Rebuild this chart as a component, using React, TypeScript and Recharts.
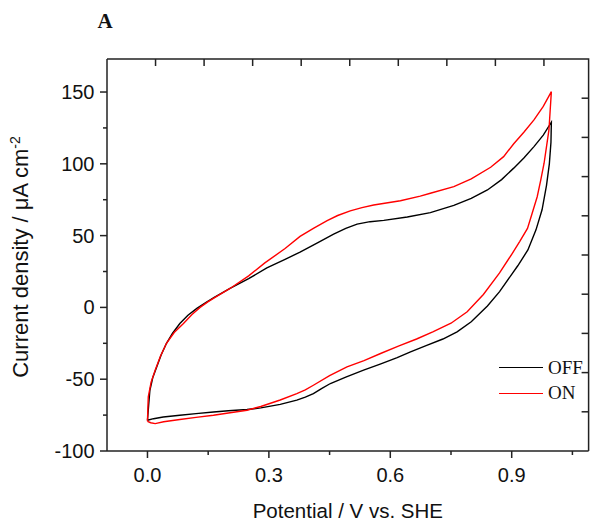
import React from "react";
import { LineChart, Line, XAxis, YAxis, Legend, Label } from "recharts";

const SANS = '"Liberation Sans", Arial, sans-serif';
const SERIF = '"Liberation Serif", "Times New Roman", serif';

// [potential V, current density µA cm-2]
const OFF_ANODIC = [
    [0, -78.6], [0.003, -68], [0.006, -57.7], [0.013, -49], [0.023, -41.4], [0.034, -33],
    [0.047, -25], [0.062, -18], [0.08, -11.2], [0.1, -5.5], [0.122, -0.7], [0.145, 3.5],
    [0.165, 7], [0.204, 13.2], [0.25, 20], [0.295, 27.5], [0.34, 33.5], [0.377, 38.5],
    [0.42, 45], [0.46, 51], [0.49, 55], [0.518, 58], [0.55, 59.7], [0.584, 60.6],
    [0.642, 63], [0.699, 66], [0.757, 71], [0.8, 76], [0.84, 81.8], [0.875, 89],
    [0.905, 97], [0.93, 104], [0.955, 112], [0.978, 120], [0.998, 129],
];
const OFF_CATHODIC = [
    [0.997, 115], [0.993, 100], [0.986, 85], [0.975, 68], [0.96, 54], [0.94, 40],
    [0.915, 29], [0.9, 23], [0.87, 11], [0.84, 1], [0.8, -10], [0.765, -17], [0.73, -22],
    [0.69, -26.5], [0.65, -31], [0.617, -35], [0.575, -39.5], [0.534, -43.7], [0.49, -48.5],
    [0.452, -53], [0.43, -56.5], [0.41, -60], [0.39, -62.5], [0.369, -64.6], [0.328, -67.5],
    [0.28, -70], [0.246, -71.1], [0.2, -72], [0.163, -72.8], [0.12, -74], [0.08, -75.1],
    [0.039, -76.3], [0.015, -77.5], [0, -78.6],
];
const ON_ANODIC = [
    [0, -79.3], [0.001, -70], [0.002, -62.3], [0.009, -52], [0.019, -43.7], [0.032, -34],
    [0.047, -25], [0.066, -17.5], [0.089, -11.2], [0.11, -5], [0.13, 0], [0.15, 4],
    [0.17, 7.5], [0.204, 13.2], [0.25, 22], [0.29, 31], [0.34, 41], [0.377, 49.5],
    [0.41, 55], [0.444, 60.4], [0.47, 64], [0.501, 67.2], [0.53, 69.5], [0.559, 71.3],
    [0.625, 74.3], [0.674, 77.5], [0.699, 79.5], [0.757, 84.1], [0.8, 89.5], [0.848, 97.6],
    [0.88, 105], [0.905, 114], [0.93, 122], [0.955, 130.6], [0.978, 140], [0.998, 150.3],
];
const ON_CATHODIC = [
    [0.995, 137], [0.992, 123.6], [0.986, 112], [0.98, 100.4], [0.972, 89], [0.963, 77.1],
    [0.95, 65], [0.939, 55], [0.92, 46], [0.9, 37], [0.87, 24], [0.83, 9], [0.79, -3],
    [0.75, -11], [0.705, -17], [0.665, -22], [0.62, -27], [0.576, -32.1], [0.535, -37],
    [0.493, -41.4], [0.45, -47.5], [0.41, -54.2], [0.39, -57.5], [0.369, -60], [0.328, -64.5],
    [0.28, -69], [0.246, -71.6], [0.2, -73.5], [0.163, -75.1], [0.12, -76.6], [0.08, -78.1],
    [0.04, -79.6], [0.019, -80.9], [0.008, -80.3], [0, -79.3],
];

const X_DOMAIN = [-0.1, 1.09];
const Y_DOMAIN = [-100, 173];
const X_TICKS = [0, 0.15, 0.3, 0.45, 0.6, 0.75, 0.9, 1.05];
const Y_TICKS = [-100, -75, -50, -25, 0, 25, 50, 75, 100, 125, 150];
// the top/right frame in the original has its own tick spacing (fractions of the box)
const TOP_TICKS = [1, 2, 3, 4, 5, 6, 7, 8, 9];
const TOP_SPAN = 9.92;
const RIGHT_TICKS = [1, 2, 3, 4, 5, 6, 7, 8, 9];
const RIGHT_SPAN = 10;

const W = 592;
const H = 525;
const MARGIN = { top: 59, right: 3.4, bottom: 0, left: 0 };
const Y_AXIS_W = 107;
const X_AXIS_H = 74;
const PLOT = {
    left: MARGIN.left + Y_AXIS_W,
    top: MARGIN.top,
    right: W - MARGIN.right,
    bottom: H - MARGIN.bottom - X_AXIS_H,
};

const toRows = (pts: number[][]) => pts.map(([x, y]) => ({ x, y }));
const offData = toRows([...OFF_ANODIC, ...OFF_CATHODIC]);
const onData = toRows([...ON_ANODIC, ...ON_CATHODIC]);

const AXIS = "#222";

function XTick({ x, y, payload }: any) {
    const major = Math.round(payload.value / 0.15) % 2 === 0;
    return (
        <g>
            <line x1={x} x2={x} y1={y} y2={y + (major ? 7 : 4)} stroke={AXIS} strokeWidth={1.5} />
            {major && (
                <text x={x} y={y + 31} textAnchor="middle" fontFamily={SANS} fontSize={20} fill="#111">
                    {payload.value.toFixed(1)}
                </text>
            )}
        </g>
    );
}

function YTick({ x, y, payload }: any) {
    const major = payload.value % 50 === 0;
    return (
        <g>
            <line x1={x - (major ? 7 : 4)} x2={x} y1={y} y2={y} stroke={AXIS} strokeWidth={1.5} />
            {major && (
                <text x={x - 12.5} y={y + 7} textAnchor="end" fontFamily={SANS} fontSize={20} fill="#111">
                    {payload.value}
                </text>
            )}
        </g>
    );
}

function YTitle() {
    return (
        <text
            transform="translate(27.5, 257) rotate(-90)"
            textAnchor="middle"
            fontFamily={SANS}
            fontSize={22}
            fill="#111"
        >
            Current density / μA cm
            <tspan fontSize={14} dy={-8}>-2</tspan>
        </text>
    );
}

// top and right edges of the box, ticks pointing inwards
function Frame() {
    const w = PLOT.right - PLOT.left;
    const h = PLOT.bottom - PLOT.top;
    return (
        <svg
            width={W}
            height={H}
            style={{ position: "absolute", left: 0, top: 0, pointerEvents: "none" }}
        >
            <polyline
                points={`${PLOT.left},${PLOT.top} ${PLOT.right},${PLOT.top} ${PLOT.right},${PLOT.bottom}`}
                fill="none"
                stroke={AXIS}
                strokeWidth={1.5}
            />
            {TOP_TICKS.map((t) => {
                const x = PLOT.left + (t / TOP_SPAN) * w;
                return <line key={`t${t}`} x1={x} x2={x} y1={PLOT.top} y2={PLOT.top + 7} stroke={AXIS} strokeWidth={1.5} />;
            })}
            {RIGHT_TICKS.map((t) => {
                const y = PLOT.bottom - (t / RIGHT_SPAN) * h;
                return <line key={`r${t}`} x1={PLOT.right - 7} x2={PLOT.right} y1={y} y2={y} stroke={AXIS} strokeWidth={1.5} />;
            })}
        </svg>
    );
}

function LegendBox() {
    const rows = [
        { name: "OFF", color: "#000" },
        { name: "ON", color: "#ff0000" },
    ];
    return (
        <div style={{ fontFamily: SERIF, fontSize: 19, color: "#111" }}>
            {rows.map((r) => (
                <div key={r.name} style={{ display: "flex", alignItems: "center", height: 25.4 }}>
                    <span style={{ display: "inline-block", width: 44, height: 0, borderTop: `1.5px solid ${r.color}`, marginRight: 5 }} />
                    <span>{r.name}</span>
                </div>
            ))}
        </div>
    );
}

export default function App() {
    return (
        <div style={{ position: "absolute", left: 0, top: 0, width: W, height: H, background: "#fff" }}>
            <div style={{ position: "absolute", left: 97.5, top: 10.5, lineHeight: "21px", fontFamily: SERIF, fontWeight: "bold", fontSize: 21, color: "#111" }}>
                A
            </div>
            <LineChart width={W} height={H} margin={MARGIN}>
                <XAxis
                    dataKey="x"
                    type="number"
                    domain={X_DOMAIN}
                    allowDataOverflow
                    ticks={X_TICKS}
                    interval={0}
                    height={X_AXIS_H}
                    tickLine={false}
                    tickSize={0}
                    tickMargin={0}
                    tick={<XTick />}
                    stroke={AXIS}
                    strokeWidth={1.5}
                >
                    <Label
                        value="Potential / V vs. SHE"
                        position="insideBottom"
                        offset={7}
                        style={{ fontFamily: SANS, fontSize: 20.5, fill: "#111" }}
                    />
                </XAxis>
                <YAxis
                    type="number"
                    domain={Y_DOMAIN}
                    allowDataOverflow
                    ticks={Y_TICKS}
                    interval={0}
                    width={Y_AXIS_W}
                    tickLine={false}
                    tickSize={0}
                    tickMargin={0}
                    tick={<YTick />}
                    stroke={AXIS}
                    strokeWidth={1.5}
                >
                    <Label content={<YTitle />} />
                </YAxis>
                <Legend
                    layout="vertical"
                    align="center"
                    verticalAlign="middle"
                    content={<LegendBox />}
                    wrapperStyle={{ position: "absolute", left: 499, top: 355, width: 90 }}
                />
                <Line data={offData} dataKey="y" name="OFF" stroke="#000" strokeWidth={1.4} dot={false} type="linear" isAnimationActive={false} />
                <Line data={onData} dataKey="y" name="ON" stroke="#ff0000" strokeWidth={1.4} dot={false} type="linear" isAnimationActive={false} />
            </LineChart>
            <Frame />
        </div>
    );
}
